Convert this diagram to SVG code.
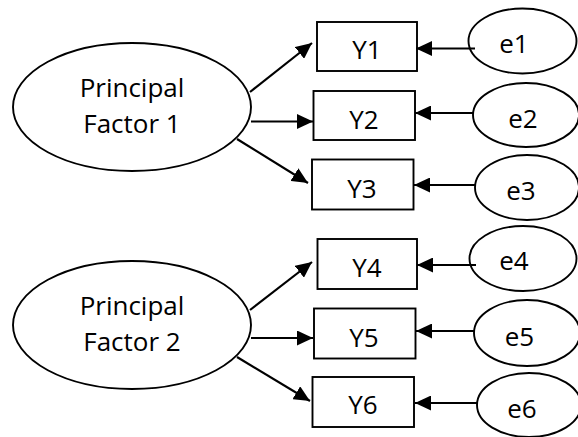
<svg xmlns="http://www.w3.org/2000/svg" width="578" height="437" viewBox="0 0 578 437">
<style>
.n{fill:none;stroke:#000;stroke-width:1.9}
.t{font-family:"Open Sans","Liberation Sans",sans-serif;font-size:26px;fill:#000;text-anchor:middle}
.c{stroke:#000;stroke-width:2.2;fill:none;marker-end:url(#ah)}
</style>
<defs>
<marker id="ah" viewBox="0 0 16 15" refX="16" refY="7.5" markerUnits="userSpaceOnUse" markerWidth="16" markerHeight="15" orient="auto">
<path d="M0,0 L16,7.5 L0,15 z" fill="#000"/>
</marker>
</defs>
<rect width="578" height="437" fill="#fff"/>
<g id="connectors">
<line class="c" x1="250" y1="92" x2="312" y2="43"/>
<line class="c" x1="251" y1="121.5" x2="313" y2="121.5"/>
<line class="c" x1="237" y1="139" x2="308" y2="183"/>
<line class="c" x1="250" y1="310" x2="312" y2="262"/>
<line class="c" x1="251" y1="338" x2="313" y2="338"/>
<line class="c" x1="237" y1="357" x2="310" y2="401"/>
<line class="c" x1="475" y1="48.5" x2="416" y2="48.5"/>
<line class="c" x1="474" y1="113" x2="415" y2="113"/>
<line class="c" x1="475" y1="185" x2="414" y2="185"/>
<line class="c" x1="476" y1="265" x2="417" y2="265"/>
<line class="c" x1="474" y1="331" x2="416" y2="331"/>
<line class="c" x1="477" y1="403" x2="415" y2="403"/>
</g>
<g id="PF1"><ellipse class="n" cx="132" cy="107" rx="119" ry="64"/><text class="t" x="132" y="97">Principal</text><text class="t" x="132" y="133">Factor 1</text></g>
<g id="PF2"><ellipse class="n" cx="132" cy="325" rx="119" ry="64"/><text class="t" x="132" y="315">Principal</text><text class="t" x="132" y="351">Factor 2</text></g>
<g id="Y1"><rect class="n" x="317" y="22" width="100" height="49"/><text class="t" x="367" y="59">Y1</text></g>
<g id="Y2"><rect class="n" x="313.5" y="91" width="101.5" height="49"/><text class="t" x="364" y="129">Y2</text></g>
<g id="Y3"><rect class="n" x="312" y="159.5" width="101.5" height="50"/><text class="t" x="362" y="198">Y3</text></g>
<g id="Y4"><rect class="n" x="317.5" y="239" width="99.5" height="50"/><text class="t" x="367" y="277">Y4</text></g>
<g id="Y5"><rect class="n" x="314" y="308.5" width="101.5" height="50"/><text class="t" x="364" y="347">Y5</text></g>
<g id="Y6"><rect class="n" x="312.5" y="377" width="101.5" height="50"/><text class="t" x="363" y="414">Y6</text></g>
<g id="e1"><ellipse class="n" cx="522.5" cy="41" rx="54" ry="32.5"/><text class="t" x="514" y="53">e1</text></g>
<g id="e2"><ellipse class="n" cx="526" cy="115" rx="53" ry="32"/><text class="t" x="523" y="128">e2</text></g>
<g id="e3"><ellipse class="n" cx="527" cy="187.5" rx="52" ry="32.5"/><text class="t" x="521" y="200">e3</text></g>
<g id="e4"><ellipse class="n" cx="523" cy="258.5" rx="53.5" ry="32.5"/><text class="t" x="514" y="270">e4</text></g>
<g id="e5"><ellipse class="n" cx="527" cy="333" rx="53" ry="33"/><text class="t" x="519.5" y="346">e5</text></g>
<g id="e6"><ellipse class="n" cx="529" cy="405" rx="52" ry="32"/><text class="t" x="522" y="418">e6</text></g>
</svg>
